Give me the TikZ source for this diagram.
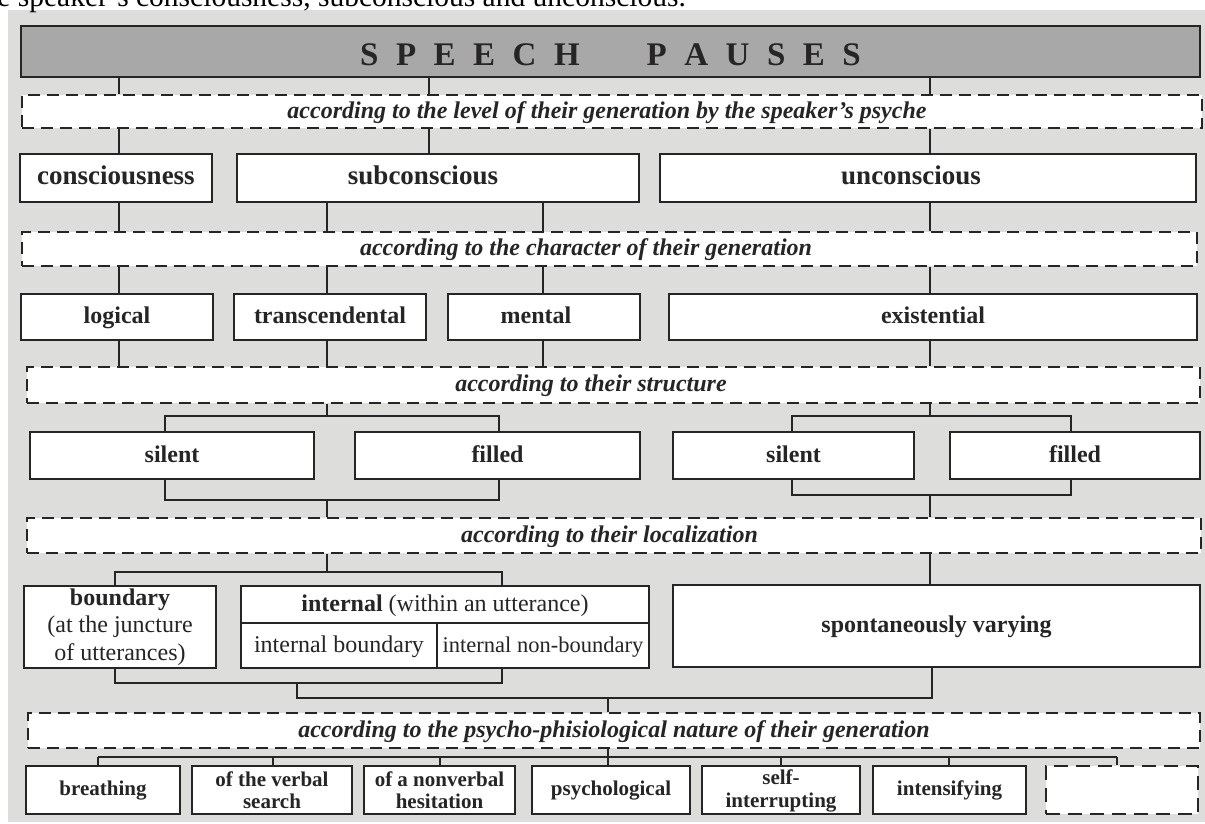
\documentclass[tikz,border=0pt]{standalone}
\usepackage{fontspec}
\setmainfont{Liberation Serif}
\usetikzlibrary{calc}
\definecolor{bg}{HTML}{DDDDDB}
\definecolor{ttl}{HTML}{A8A8A8}
\definecolor{lc}{HTML}{262424}
\newcommand\bx[7]{\node[#6, minimum width={#4-#2}, minimum height={#5-#3}] (#1) at ({(#2+#4)/2},{(#3+#5)/2}) {#7};}
\newcommand\ls{\kern17.5pt}
\tikzset{
  sbox/.style={draw=lc, line width=2.6pt, fill=white, inner sep=0pt, align=center, text=lc},
  dbox/.style={draw=lc, line width=1.8pt, dash pattern=on 12pt off 7pt, fill=white, inner sep=0pt, text=lc},
  ebox/.style={draw=lc, line width=2.6pt, dash pattern=on 14pt off 8pt, fill=white, inner sep=0pt},
  conn/.style={draw=lc, line width=1.8pt},
  tA/.style={text height=18.5pt, text depth=5pt},
  tB/.style={text height=17pt, text depth=4pt},
  tC/.style={text height=14pt, text depth=3.5pt},
  big/.style={font=\fontsize{27}{30}\selectfont\bfseries, tA},
  mid/.style={font=\fontsize{24}{27}\selectfont\bfseries, tB},
  lab/.style={font=\fontsize{24}{27}\selectfont\bfseries\itshape, tB},
  sml/.style={font=\fontsize{21}{22.5}\selectfont\bfseries},
  reg/.style={font=\fontsize{24}{27.5}\selectfont},
}
\begin{document}
\begin{tikzpicture}[x=1pt,y=-1pt]
\useasboundingbox (0,0) rectangle (1205,823);
\fill[white] (0,0) rectangle (1205,823);
\fill[bg] (8,10) rectangle (1205,822);
\node[anchor=base west, inner sep=0pt, font=\fontsize{29.5}{32}\selectfont, text=black] (toptext) at (-25.7,6.5) {the speaker’s consciousness, subconscious and unconscious.};

% title
\bx{title}{21}{26}{1200}{77}{sbox, fill=ttl, font=\fontsize{33}{36}\selectfont\bfseries, text height=27pt, text depth=0pt}{S\ls P\ls E\ls E\ls C\ls H\kern67pt P\ls A\ls U\ls S\ls E\ls S}

% dashed criteria boxes
\bx{d1}{22}{95}{1202}{128}{dbox, lab}{according to the level of their generation by the speaker’s psyche\kern10pt}
\bx{d2}{22}{232}{1197}{266}{dbox, lab}{according to the character of their generation\kern47pt}
\bx{d3}{27}{367}{1200}{403}{dbox, lab}{according to their structure\kern45pt}
\bx{d4}{27}{518}{1201}{553}{dbox, lab}{according to their localization\kern9pt}
\bx{d5}{28}{713}{1200}{748}{dbox, lab}{according to the psycho-phisiological nature of their generation}

% row 1
\bx{cons}{20}{154}{212}{202}{sbox, big}{consciousness}
\bx{subc}{237}{154}{639}{202}{sbox, big}{subconscious\kern30pt}
\bx{unc}{660}{154}{1196}{202}{sbox, big}{unconscious\kern34pt}

% row 2
\bx{logi}{21}{294}{213}{340}{sbox, mid}{logical}
\bx{tran}{234}{294}{426}{340}{sbox, mid}{transcendental}
\bx{ment}{448}{294}{640}{340}{sbox, mid}{mental\kern16pt}
\bx{exis}{669}{294}{1197}{340}{sbox, mid}{existential}

% row 3
\bx{sil1}{30}{432}{314}{479}{sbox, mid}{silent}
\bx{fil1}{355}{432}{640}{479}{sbox, mid}{filled}
\bx{sil2}{673}{432}{914}{479}{sbox, mid}{silent}
\bx{fil2}{950}{432}{1200}{479}{sbox, mid}{filled}

% row 4
\bx{bnd}{24}{586}{216}{668}{sbox, reg}{\textbf{boundary}\\(at the juncture\\of utterances)}
\bx{intT}{241}{586}{649}{623}{sbox, reg, tB}{\textbf{internal} (within an utterance)}
\bx{intB}{241}{623}{437}{668}{sbox, reg, tB}{internal boundary}
\bx{intNB}{437}{623}{649}{668}{sbox, font=\fontsize{22.5}{25}\selectfont, tB}{internal non-boundary}
\bx{spont}{673}{585}{1200}{667}{sbox, mid}{spontaneously varying}

% row 5
\bx{br}{26}{766}{180}{814}{sbox, sml, tC}{breathing}
\bx{vs}{192}{766}{352}{814}{sbox, sml}{of the verbal\\search}
\bx{nh}{364}{766}{515}{814}{sbox, sml}{of a nonverbal\\hesitation}
\bx{ps}{532}{766}{690}{814}{sbox, sml, tC}{psychological}
\bx{si}{702}{766}{860}{814}{sbox, sml}{\rule{0pt}{17pt}self-\\interrupting}
\bx{ints}{873}{766}{1026}{814}{sbox, sml, tC}{intensifying}
\bx{em}{1046}{766}{1198}{814}{ebox}{}

% x positions of connectors
\coordinate (xA) at (119,0);
\coordinate (xB) at (429,0);
\coordinate (xC) at (930,0);
\coordinate (xD) at (327,0);
\coordinate (xE) at (543,0);
\coordinate (xG) at (165,0);
\coordinate (xH) at (499,0);
\coordinate (xI) at (792,0);
\coordinate (xJ) at (1071,0);
\coordinate (xK) at (115,0);
\coordinate (xL) at (502,0);
\coordinate (xM) at (297,0);
\coordinate (xN) at (932,0);
\coordinate (xO) at (608,0);
\coordinate (b1) at (98,0);
\coordinate (b2) at (273,0);
\coordinate (b3) at (440,0);
\coordinate (b4) at (608,0);
\coordinate (b5) at (781,0);
\coordinate (b6) at (949,0);
\coordinate (b7) at (1117,0);
% y levels of junction lines
\coordinate (y1) at (0,416);
\coordinate (y2) at (0,500);
\coordinate (y2r) at (0,495);
\coordinate (y3) at (0,572);
\coordinate (y4) at (0,683);
\coordinate (y5) at (0,698);
\coordinate (y6) at (0,757);

% title -> d1 -> row 1
\foreach \x in {xA,xB,xC} \draw[conn] (title.south -| \x) -- (d1.north -| \x);
\draw[conn] (d1.south -| xA) -- (cons.north -| xA);
\draw[conn] (d1.south -| xB) -- (subc.north -| xB);
\draw[conn] (d1.south -| xC) -- (unc.north -| xC);
% row 1 -> d2
\draw[conn] (cons.south -| xA) -- (d2.north -| xA);
\draw[conn] (subc.south -| xD) -- (d2.north -| xD);
\draw[conn] (subc.south -| xE) -- (d2.north -| xE);
\draw[conn] (unc.south -| xC) -- (d2.north -| xC);
% d2 -> row 2
\draw[conn] (d2.south -| xA) -- (logi.north -| xA);
\draw[conn] (d2.south -| xD) -- (tran.north -| xD);
\draw[conn] (d2.south -| xE) -- (ment.north -| xE);
\draw[conn] (d2.south -| xC) -- (exis.north -| xC);
% row 2 -> d3
\draw[conn] (logi.south -| xA) -- (d3.north -| xA);
\draw[conn] (tran.south -| xD) -- (d3.north -| xD);
\draw[conn] (ment.south -| xE) -- (d3.north -| xE);
\draw[conn] (exis.south -| xC) -- (d3.north -| xC);
% d3 -> row 3
\draw[conn] (d3.south -| xD) -- (xD |- y1);
\draw[conn] (sil1.north -| xG) -- (xG |- y1) -- (xH |- y1) -- (fil1.north -| xH);
\draw[conn] (d3.south -| xC) -- (xC |- y1);
\draw[conn] (sil2.north -| xI) -- (xI |- y1) -- (xJ |- y1) -- (fil2.north -| xJ);
% row 3 -> d4
\draw[conn] (sil1.south -| xG) -- (xG |- y2) -- (xH |- y2) -- (fil1.south -| xH);
\draw[conn] (xD |- y2) -- (d4.north -| xD);
\draw[conn] (sil2.south -| xI) -- (xI |- y2r) -- (xJ |- y2r) -- (fil2.south -| xJ);
\draw[conn] (xC |- y2r) -- (d4.north -| xC);
% d4 -> row 4
\draw[conn] (d4.south -| xD) -- (xD |- y3);
\draw[conn] (bnd.north -| xK) -- (xK |- y3) -- (xL |- y3) -- (intT.north -| xL);
\draw[conn] (d4.south -| xC) -- (spont.north -| xC);
% row 4 -> d5
\draw[conn] (bnd.south -| xK) -- (xK |- y4) -- (xL |- y4) -- (intNB.south -| xL);
\draw[conn] (xM |- y4) -- (xM |- y5) -- (xN |- y5) -- (spont.south -| xN);
\draw[conn] (xO |- y5) -- (d5.north -| xO);
% d5 -> row 5
\draw[conn] (d5.south -| xO) -- (xO |- y6);
\draw[conn] (b1 |- y6) -- (b7 |- y6);
\foreach \n/\b in {br/b1, vs/b2, nh/b3, ps/b4, si/b5, ints/b6, em/b7} \draw[conn] (\b |- y6) -- (\n.north -| \b);
\end{tikzpicture}
\end{document}
